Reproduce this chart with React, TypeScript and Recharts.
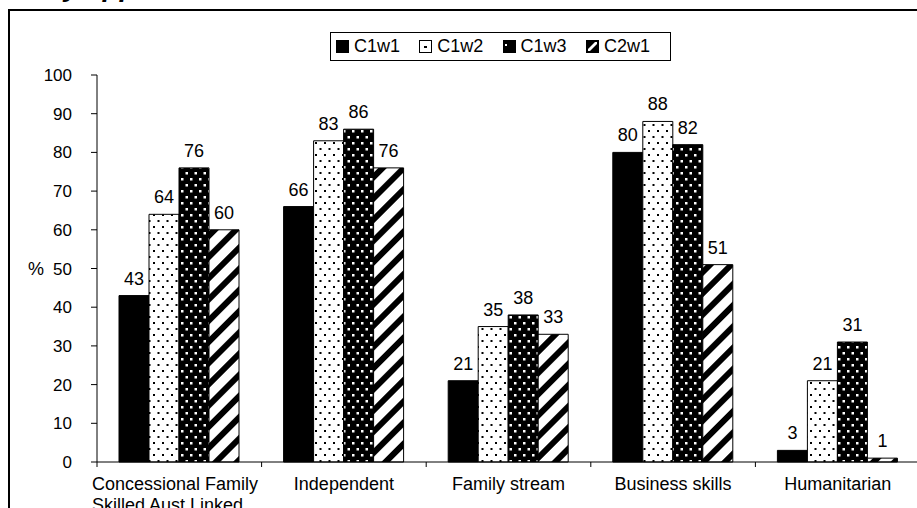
import React from 'react';
import { BarChart, Bar, XAxis, YAxis, LabelList } from 'recharts';

const categories = [
    'Concessional Family\nSkilled Aust Linked',
    'Independent',
    'Family stream',
    'Business skills',
    'Humanitarian',
];
const c1w1 = [43, 66, 21, 80, 3];
const c1w2 = [64, 83, 35, 88, 21];
const c1w3 = [76, 86, 38, 82, 31];
const c2w1 = [60, 76, 33, 51, 1];
const yTicks = [0, 10, 20, 30, 40, 50, 60, 70, 80, 90, 100];

const seriesNames = ['C1w1', 'C1w2', 'C1w3', 'C2w1'];

const data = categories.map((name, i) => ({
    name,
    C1w1: c1w1[i],
    C1w2: c1w2[i],
    C1w3: c1w3[i],
    C2w1: c2w1[i],
}));

const FONT = '"Liberation Sans", Arial, sans-serif';

const CategoryTick = (props: any) => {
    const { x, y, payload } = props;
    const half = payload?.offset ?? 0;
    const left = x - half;
    const lines = String(payload.value).split('\n');
    const multi = lines.length > 1;
    return (
        <g>
            <line x1={left} y1={y - 6} x2={left} y2={y - 1} stroke="#000" />
            <text
                x={multi ? left - 5 : x}
                y={y + 22}
                textAnchor={multi ? 'start' : 'middle'}
                fontSize={18}
                fontFamily={FONT}
                fill="#000"
            >
                {lines.map((line, i) => (
                    <tspan key={i} x={multi ? left - 5 : x} dy={i === 0 ? 0 : 20.5}>
                        {line}
                    </tspan>
                ))}
            </text>
        </g>
    );
};

const Swatch = ({ kind }: { kind: number }) => (
    <svg width={13} height={13} style={{ display: 'block' }}>
        {kind === 0 && <rect x={0} y={0} width={13} height={13} fill="#000" />}
        {kind === 1 && (
            <g>
                <rect x={0.5} y={0.5} width={12} height={12} fill="#fff" stroke="#000" />
                <rect x={5} y={6} width={3} height={2} fill="#000" />
            </g>
        )}
        {kind === 2 && (
            <g>
                <rect x={0} y={0} width={13} height={13} fill="#000" />
                <rect x={2} y={4} width={2} height={2} fill="#fff" />
            </g>
        )}
        {kind === 3 && (
            <g>
                <rect x={0} y={0} width={13} height={13} fill="#000" />
                <polygon points="2,9 9,2 11,2 11,4 4,11 2,11" fill="#fff" />
            </g>
        )}
    </svg>
);

const fills = ['#000', 'url(#dotsLight)', 'url(#dotsDark)', 'url(#stripes)'];

export default function App() {
    return (
        <div
            style={{
                position: 'absolute',
                left: 8,
                top: 0,
                width: 909,
                height: 508,
                overflow: 'hidden',
                fontFamily: FONT,
                background: '#fff',
            }}
        >
            <div
                style={{
                    position: 'absolute',
                    left: -33,
                    top: -27,
                    fontSize: 28,
                    lineHeight: '28px',
                    fontWeight: 'bold',
                    fontStyle: 'italic',
                    whiteSpace: 'nowrap',
                }}
            >
                Primary applicants
            </div>
            <div
                style={{
                    position: 'absolute',
                    left: 0,
                    top: 9,
                    width: 940,
                    height: 540,
                    border: '2px solid #000',
                    boxSizing: 'border-box',
                }}
            />
            <div style={{ position: 'absolute', left: 0, top: 8 }}>
                <BarChart
                    width={930}
                    height={540}
                    data={data}
                    margin={{ top: 67, right: 18, left: 0, bottom: 26 }}
                    barGap={0}
                    barCategoryGap={22}
                >
                    <defs>
                        <pattern id="dotsLight" width="9" height="12" patternUnits="userSpaceOnUse">
                            <rect width="9" height="12" fill="#fff" />
                            <rect x="1" y="2" width="2" height="2" fill="#000" />
                            <rect x="5.5" y="8" width="2" height="2" fill="#000" />
                        </pattern>
                        <pattern id="dotsDark" width="9" height="12" patternUnits="userSpaceOnUse">
                            <rect width="9" height="12" fill="#000" />
                            <rect x="2" y="2" width="2.5" height="2.5" fill="#fff" />
                            <rect x="6.5" y="8" width="2.5" height="2.5" fill="#fff" />
                        </pattern>
                        <pattern
                            id="stripes"
                            width="15"
                            height="15"
                            patternUnits="userSpaceOnUse"
                            patternTransform="rotate(45)"
                        >
                            <rect width="15" height="15" fill="#fff" />
                            <rect width="6" height="15" fill="#000" />
                        </pattern>
                    </defs>
                    <XAxis
                        dataKey="name"
                        height={60}
                        interval={0}
                        tickLine={false}
                        tickSize={6}
                        tickMargin={0}
                        axisLine={{ stroke: '#000' }}
                        tick={<CategoryTick />}
                    />
                    <YAxis
                        width={89}
                        domain={[0, 100]}
                        ticks={yTicks}
                        interval={0}
                        tickSize={6}
                        tickMargin={19}
                        axisLine={{ stroke: '#000' }}
                        tickLine={{ stroke: '#000' }}
                        tick={{ fill: '#000', fontSize: 17, fontFamily: FONT }}
                        label={{
                            value: '%',
                            position: 'insideLeft',
                            offset: 20,
                            fill: '#000',
                            fontSize: 18,
                            fontFamily: FONT,
                        }}
                    />
                    {seriesNames.map((key, i) => (
                        <Bar
                            key={key}
                            dataKey={key}
                            fill={fills[i]}
                            stroke="#000"
                            strokeWidth={1}
                            isAnimationActive={false}
                        >
                            <LabelList
                                dataKey={key}
                                position="top"
                                offset={11}
                                fill="#000"
                                fontSize={18}
                                fontFamily={FONT}
                            />
                        </Bar>
                    ))}
                </BarChart>
            </div>
            <div
                style={{
                    position: 'absolute',
                    left: 322,
                    top: 32,
                    width: 341,
                    height: 29,
                    border: '1px solid #000',
                    boxSizing: 'border-box',
                    background: '#fff',
                }}
            >
                {seriesNames.map((name, i) => (
                    <div
                        key={name}
                        style={{
                            position: 'absolute',
                            left: 5 + i * 83.3,
                            top: 0,
                            height: 27,
                            display: 'flex',
                            alignItems: 'center',
                            fontSize: 18,
                        }}
                    >
                        <Swatch kind={i} />
                        <span style={{ marginLeft: 5 }}>{name}</span>
                    </div>
                ))}
            </div>
        </div>
    );
}
